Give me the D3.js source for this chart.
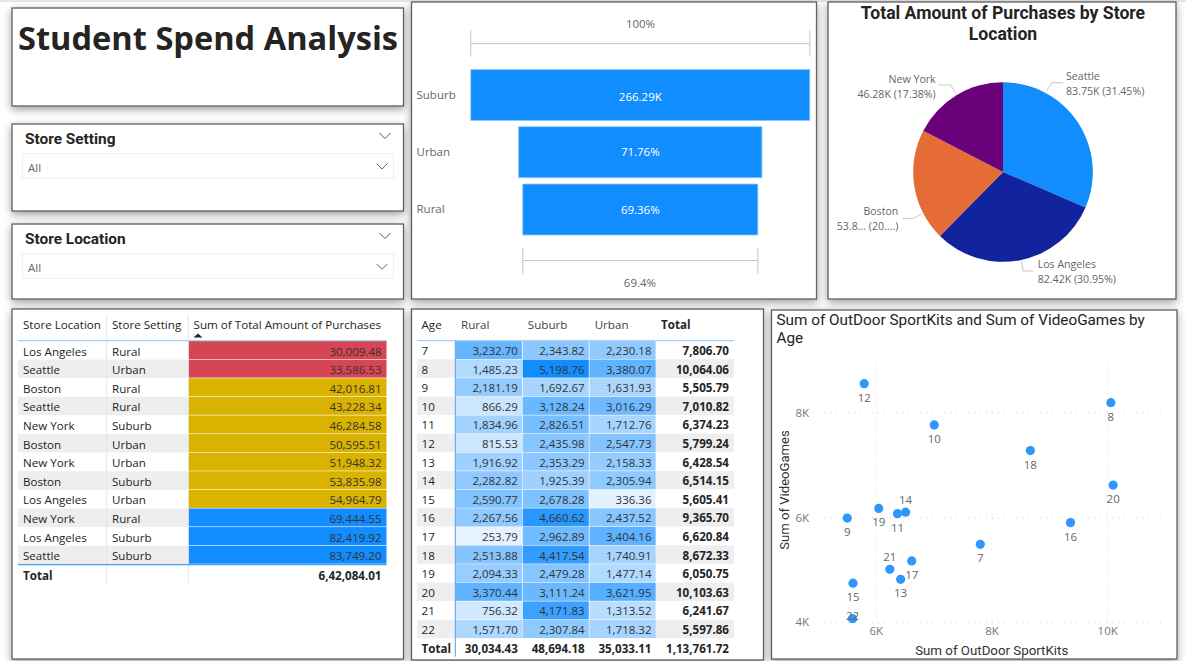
<!DOCTYPE html>
<html>
<head>
<meta charset="utf-8">
<script src="https://cdn.jsdelivr.net/npm/d3@7"></script>
<style>
  html, body { margin: 0; padding: 0; background: #fff; overflow: hidden; }
  svg { display: block; }
  text { font-family: "Open Sans", sans-serif; fill: #252423; }
  .din { font-family: Roboto, sans-serif; }
</style>
</head>
<body>
<svg id="chart" width="1186" height="661"></svg>
<script>
// Funnel data (store setting).
const funnelSettings = ["Suburb", "Urban", "Rural"];
const funnelValues = [266290, 191095, 184698];
const funnelLabels = ["266.29K", "71.76%", "69.36%"];

// Pie data (store location).
const pieLocations = ["Seattle", "Los Angeles", "Boston", "New York"];
const pieValues = [83.75, 82.42, 53.84, 46.28];
const pieTexts = ["83.75K (31.45%)", "82.42K (30.95%)", "53.8... (20....)", "46.28K (17.38%)"];
const pieColors = ["#118DFF", "#12239E", "#E66C37", "#6B007B"];

// Left table.
const tableLocations = ["Los Angeles", "Seattle", "Boston", "Seattle", "New York", "Boston", "New York", "Boston", "Los Angeles", "New York", "Los Angeles", "Seattle"];
const tableSettings = ["Rural", "Urban", "Rural", "Rural", "Suburb", "Urban", "Urban", "Suburb", "Urban", "Rural", "Suburb", "Suburb"];
const tableAmounts = [30009.48, 33586.53, 42016.81, 43228.34, 46284.58, 50595.51, 51948.32, 53835.98, 54964.79, 69444.55, 82419.92, 83749.20];
const tableTotal = 642084.01;

// Matrix by age.
const ages = [7, 8, 9, 10, 11, 12, 13, 14, 15, 16, 17, 18, 19, 20, 21, 22];
const ruralSpend = [3232.70, 1485.23, 2181.19, 866.29, 1834.96, 815.53, 1916.92, 2282.82, 2590.77, 2267.56, 253.79, 2513.88, 2094.33, 3370.44, 756.32, 1571.70];
const suburbSpend = [2343.82, 5198.76, 1692.67, 3128.24, 2826.51, 2435.98, 2353.29, 1925.39, 2678.28, 4660.62, 2962.89, 4417.54, 2479.28, 3111.24, 4171.83, 2307.84];
const urbanSpend = [2230.18, 3380.07, 1631.93, 3016.29, 1712.76, 2547.73, 2158.33, 2305.94, 336.36, 2437.52, 3404.16, 1740.91, 1477.14, 3621.95, 1313.52, 1718.32];
const ageTotals = [7806.70, 10064.06, 5505.79, 7010.82, 6374.23, 5799.24, 6428.54, 6514.15, 5605.41, 9365.70, 6620.84, 8672.33, 6050.75, 10103.63, 6241.67, 5597.86];
const matrixTotals = [30034.43, 48694.18, 35033.11, 113761.72];

// Scatter: y values by age, x values are the age totals above.
const videoGames = [5487, 8187, 5987, 7762, 6070, 8548, 4820, 6100, 4745, 5900, 5170, 7274, 6170, 6615, 5010, 4070];
const labelsAbove = [14, 21];

const svg = d3.select("#chart");
const fmt = v => v.toLocaleString("en-IN", { minimumFractionDigits: 2, maximumFractionDigits: 2 });

const defs = svg.append("defs");
defs.append("filter").attr("id", "shadow")
  .attr("x", "-8%").attr("y", "-10%").attr("width", "116%").attr("height", "125%")
  .append("feDropShadow")
  .attr("dx", 0).attr("dy", 3).attr("stdDeviation", 4)
  .attr("flood-color", "#000").attr("flood-opacity", 0.38);

function panel(x, y, w, h) {
  svg.append("rect")
    .attr("x", x).attr("y", y).attr("width", w).attr("height", h)
    .attr("fill", "#fff").attr("stroke", "#5f5f5f").attr("stroke-width", 1.3)
    .attr("filter", "url(#shadow)");
}

function label(x, y, str, size, anchor, color, weight, cls) {
  return svg.append("text")
    .attr("class", cls || null)
    .attr("x", x).attr("y", y)
    .attr("dy", "0.35em")
    .attr("text-anchor", anchor || "start")
    .attr("font-size", size)
    .attr("font-weight", weight || 400)
    .style("fill", color || "#252423")
    .text(str);
}

function chevron(cx, cy, color) {
  svg.append("path")
    .attr("d", d3.line()([[cx - 5.5, cy - 3], [cx, cy + 2.5], [cx + 5.5, cy - 3]]))
    .attr("fill", "none").attr("stroke", color).attr("stroke-width", 1);
}

svg.append("rect").attr("width", 1186).attr("height", 2).attr("fill", "#e6e6e6");

// Middle and right panels go first so the left column's shadow falls over them.
panel(828, 2, 348, 297);
panel(771.5, 310, 405.5, 349);
panel(411.5, 309, 352, 351);
panel(411.5, 2, 405, 297);
panel(12, 8, 391.5, 98);
panel(12, 124, 391.5, 87);
panel(12, 224, 391.5, 75);
panel(12, 309, 391.5, 350);

// Title card
label(18, 39, "Student Spend Analysis", 32.6, "start", "#252423", 700);

// Slicers
function slicer(title, headY, boxY, boxH) {
  label(25, headY, title, 15.4, "start", "#252423", 700, "din");
  chevron(385, headY - 3, "#555");
  svg.append("rect").attr("x", 22.5).attr("y", boxY).attr("width", 371).attr("height", boxH)
    .attr("fill", "#fff").attr("stroke", "#efefef").attr("stroke-width", 1);
  label(28, boxY + boxH / 2 + 2, "All", 11.5, "start", "#666");
  chevron(382, boxY + boxH / 2 + 0.5, "#666");
}
slicer("Store Setting", 139, 153.5, 25);
slicer("Store Location", 239, 254, 24.5);

// Funnel
const funnelX = d3.scaleLinear().domain([0, funnelValues[0]]).range([0, 339]);
const funnelY = d3.scaleBand().domain(funnelSettings).range([69.5, 235]).paddingInner(0.11);
const funnelMid = 640.3;
svg.append("g").selectAll("rect").data(funnelSettings).join("rect")
  .attr("x", (d, i) => funnelMid - funnelX(funnelValues[i]) / 2)
  .attr("y", d => funnelY(d))
  .attr("width", (d, i) => funnelX(funnelValues[i]))
  .attr("height", funnelY.bandwidth())
  .attr("fill", "#118DFF").attr("stroke", "#8cc8ff").attr("stroke-width", 0.8);
funnelSettings.forEach((d, i) => {
  const cy = funnelY(d) + funnelY.bandwidth() / 2;
  label(416.5, cy + (i === 0 ? -0.5 : -0.5), d, 11.5, "start", "#666");
  label(funnelMid, cy + (i === 0 ? 1.5 : 0), funnelLabels[i], 11.5, "middle", "#fff");
});
function bracket(value, y) {
  const half = funnelX(value) / 2;
  const g = svg.append("g").attr("stroke", "#c8c6c4").attr("stroke-width", 1);
  g.append("line").attr("x1", funnelMid - half).attr("x2", funnelMid + half).attr("y1", y).attr("y2", y);
  [funnelMid - half, funnelMid + half].forEach(x => {
    g.append("line").attr("x1", x).attr("x2", x).attr("y1", y - 13).attr("y2", y + 13);
  });
}
bracket(funnelValues[0], 43.7);
bracket(funnelValues[2], 260.5);
label(640.5, 23.5, "100%", 11.5, "middle", "#666");
label(640, 282.5, "69.4%", 11.5, "middle", "#666");

// Pie
label(1003, 13, "Total Amount of Purchases by Store", 17.6, "middle", "#252423", 700, "din");
label(1003, 34, "Location", 17.6, "middle", "#252423", 700, "din");
const pieArcs = d3.pie().sort(null)(pieValues);
const arcPath = d3.arc().innerRadius(0).outerRadius(89.8);
svg.append("g").attr("transform", "translate(1003,172)")
  .selectAll("path").data(pieArcs).join("path")
  .attr("d", arcPath)
  .attr("fill", (d, i) => pieColors[i]);
const pieLabelLayout = [
  { anchor: "start", x: 1066, y: 76, leader: [[1047, 90.5], [1052, 82.7], [1063, 82.7]] },
  { anchor: "start", x: 1037.7, y: 264, leader: [[1021.7, 261.7], [1023.3, 271], [1033.3, 271]] },
  { anchor: "end", x: 898.3, y: 211, leader: [[921.7, 214], [913.3, 218.3], [902.3, 218.3]] },
  { anchor: "end", x: 935.7, y: 79, leader: [[955.7, 93.3], [950.7, 85], [938.3, 85]] }
];
pieLocations.forEach((d, i) => {
  const l = pieLabelLayout[i];
  svg.append("path").attr("d", d3.line()(l.leader))
    .attr("fill", "none").attr("stroke", "#c8c6c4").attr("stroke-width", 1);
  label(l.x, l.y, d, 10.6, l.anchor, "#666");
  label(l.x, l.y + 15.3, pieTexts[i], 10.6, l.anchor, "#666");
});

// Left table
const tableRows = d3.scaleBand().domain(d3.range(tableAmounts.length)).range([341, 564.3]);
const amountColor = d3.scaleThreshold().domain([40000, 60000]).range(["#D64554", "#D9B300", "#118DFF"]);
svg.append("g").selectAll("rect").data(tableAmounts).join("rect")
  .attr("x", 18).attr("width", 170.5)
  .attr("y", (d, i) => tableRows(i)).attr("height", tableRows.bandwidth())
  .attr("fill", (d, i) => i % 2 ? "#eeeeee" : "#fff");
svg.append("g").selectAll("rect").data(tableAmounts).join("rect")
  .attr("x", 188.5).attr("width", 198)
  .attr("y", (d, i) => tableRows(i)).attr("height", tableRows.bandwidth() - 0.6)
  .attr("fill", d => amountColor(d));
tableAmounts.forEach((d, i) => {
  const cy = tableRows(i) + tableRows.bandwidth() / 2 + 1.2;
  label(23, cy, tableLocations[i], 11.6);
  label(112, cy, tableSettings[i], 11.6);
  label(381.5, cy, fmt(d), 11.5, "end", "#333");
});
[106.7, 188.3].forEach(x => {
  svg.append("line").attr("x1", x).attr("x2", x).attr("y1", 315).attr("y2", 583.7)
    .attr("stroke", "#e6e6e6").attr("stroke-width", 1);
});
label(23, 325, "Store Location", 11.6);
label(112, 325, "Store Setting", 11.6);
label(193.5, 325, "Sum of Total Amount of Purchases", 11.65);
svg.append("path").attr("d", d3.line()([[193.5, 337.5], [202.5, 337.5], [198, 333.5]])).attr("fill", "#252423");
[340.7, 564.6].forEach(y => {
  svg.append("line").attr("x1", 18).attr("x2", 386.7).attr("y1", y).attr("y2", y)
    .attr("stroke", y < 400 ? "#a6d1fb" : "#4a9fef").attr("stroke-width", 1.2);
});
label(23, 575.7, "Total", 11.6, "start", "#252423", 700);
label(381.5, 575.7, fmt(tableTotal), 11.6, "end", "#252423", 700);

// Matrix
const matrixCols = [ruralSpend, suburbSpend, urbanSpend];
const colNames = ["Rural", "Suburb", "Urban"];
const matrixX = d3.scaleBand().domain(colNames).range([455.5, 656]);
const matrixY = d3.scaleBand().domain(ages).range([340.7, 638.3]);
const heat = d3.scaleLinear().domain([d3.min(ruralSpend), d3.max(suburbSpend)]).range(["#e6f3ff", "#118DFF"]);
svg.append("g").selectAll("rect").data(ages).join("rect")
  .attr("x", 417).attr("width", 317)
  .attr("y", d => matrixY(d)).attr("height", matrixY.bandwidth())
  .attr("fill", (d, i) => i % 2 ? "#eeeeee" : "#fff");
colNames.forEach((name, c) => {
  svg.append("g").selectAll("rect").data(matrixCols[c]).join("rect")
    .attr("x", matrixX(name) + 0.4).attr("width", matrixX.bandwidth() - 0.8)
    .attr("y", (d, i) => matrixY(ages[i]) + 0.3).attr("height", matrixY.bandwidth() - 0.6)
    .attr("fill", d => heat(d));
  matrixCols[c].forEach((d, i) => {
    label(matrixX(name) + matrixX.bandwidth() - 4.5, matrixY(ages[i]) + matrixY.bandwidth() / 2 + 1, fmt(d), 11.5, "end", "#333");
  });
  label(matrixX(name) + 5.5, 325, name, 11.6, "start", "#444");
  label(matrixX(name) + matrixX.bandwidth() - 4.5, 649, fmt(matrixTotals[c]), 11.6, "end", "#252423", 700);
});
ages.forEach((a, i) => {
  const cy = matrixY(a) + matrixY.bandwidth() / 2 + 1;
  label(421.5, cy, a, 11.6);
  label(729, cy, fmt(ageTotals[i]), 11.6, "end", "#252423", 700);
});
label(421.5, 325, "Age", 11.6);
label(661, 325, "Total", 11.6, "start", "#252423", 700);
label(421.5, 649, "Total", 11.6, "start", "#252423", 700);
label(729, 649, fmt(matrixTotals[3]), 11.6, "end", "#252423", 700);
svg.append("line").attr("x1", 417).attr("x2", 734).attr("y1", 340.7).attr("y2", 340.7)
  .attr("stroke", "#a6d1fb").attr("stroke-width", 1.2);
svg.append("line").attr("x1", 455.3).attr("x2", 455.3).attr("y1", 340.7).attr("y2", 656.7)
  .attr("stroke", "#4a9fef").attr("stroke-width", 1);

// Scatter
const xScale = d3.scaleLinear().domain([5000, 11000]).range([818, 1165]);
const yScale = d3.scaleLinear().domain([4000, 9000]).range([622.3, 360]);
const kFormat = d => (d / 1000) + "K";
const xAxis = svg.append("g").attr("transform", "translate(0,622.3)")
  .call(d3.axisBottom(xScale).tickValues([6000, 8000, 10000]).tickFormat(kFormat).tickSize(-262.3).tickPadding(5));
const yAxis = svg.append("g").attr("transform", "translate(818,0)")
  .call(d3.axisLeft(yScale).tickValues([4000, 6000, 8000]).tickFormat(kFormat).tickSize(-347).tickPadding(9));
[xAxis, yAxis].forEach(a => {
  a.select(".domain").remove();
  a.selectAll(".tick line").attr("stroke", "#d2d2d2").attr("stroke-dasharray", "1,5");
  a.selectAll(".tick text").attr("font-size", 11.5).style("fill", "#777").style("font-family", '"Open Sans", sans-serif');
});
defs.append("clipPath").attr("id", "plotClip").append("rect")
  .attr("x", 818).attr("y", 360).attr("width", 347).attr("height", 263);
svg.append("g").attr("clip-path", "url(#plotClip)")
  .selectAll("circle").data(ages).join("circle")
  .attr("cx", (d, i) => xScale(ageTotals[i]))
  .attr("cy", (d, i) => yScale(videoGames[i]))
  .attr("r", 4.6)
  .attr("fill", "#2f97fb");
ages.forEach((a, i) => {
  let off = labelsAbove.includes(a) ? -12.5 : 14;
  if (a === 22) off = -2.5;
  label(xScale(ageTotals[i]), yScale(videoGames[i]) + off, a, 11.5, "middle", "#666");
});
label(776.5, 320, "Sum of OutDoor SportKits and Sum of VideoGames by", 15.3, "start", "#252423", 400, "din");
label(776.5, 338, "Age", 15.3, "start", "#252423", 400, "din");
label(991.7, 650.5, "Sum of OutDoor SportKits", 13.3, "middle", "#333", 400, "din");
label(0, 0, "Sum of VideoGames", 13.1, "middle", "#333", 400, "din")
  .attr("transform", "translate(784.5,490) rotate(-90)");
</script>
</body>
</html>
